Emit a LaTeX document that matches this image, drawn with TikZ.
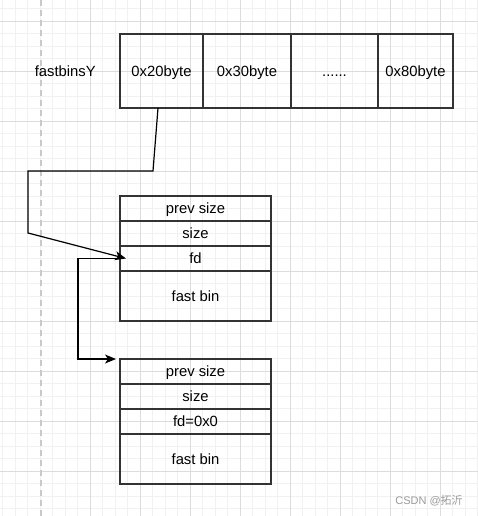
\documentclass[tikz,border=0pt]{standalone}
\usepackage{fontspec}
\setmainfont{Liberation Sans}
\newfontfamily\cjk{Noto Sans CJK SC}
\usetikzlibrary{arrows.meta}
\definecolor{gmaj}{HTML}{DCDCDC}
\definecolor{gmin}{HTML}{F1F1F1}
\definecolor{boxline}{HTML}{333333}
\definecolor{wm}{HTML}{9A9A9A}
\begin{document}
\begin{tikzpicture}[x=1pt,y=-1pt,
  cell/.style={draw=boxline, line width=1.2pt, inner sep=0pt, outer sep=0pt, anchor=north west,
    font=\fontsize{14.8}{16}\selectfont, text=black, text height=10.6pt, text depth=0pt},
  conn/.style={draw=black, line width=1.2pt, -{Stealth[length=11pt,width=9pt,inset=3pt]}},
  plain/.style={inner sep=0pt, font=\fontsize{14.8}{16}\selectfont, text height=10.6pt, text depth=0pt}]
\useasboundingbox[fill=white] (0,0) rectangle (478,516);
% grid
\foreach \i in {-3,...,35} {\draw[gmin, line width=0.8pt] ({40+12.5*\i},0) -- ({40+12.5*\i},516);}
\foreach \i in {-1,...,39} {\draw[gmin, line width=0.8pt] (0,{21+12.5*\i}) -- (478,{21+12.5*\i});}
\foreach \i in {1,...,8} {\draw[gmaj, line width=0.9pt] ({40+50*\i},0) -- ({40+50*\i},516);}
\foreach \i in {0,...,9} {\draw[gmaj, line width=0.9pt] (0,{21+50*\i}) -- (478,{21+50*\i});}
\draw[gmaj!80!gray, line width=1.2pt, dash pattern=on 6pt off 4pt] (41,0) -- (41,516);
% top row
\node[plain] (lbl) at (65.3,71) {fastbinsY};
\node[cell, minimum width=83pt, minimum height=74pt] (c20) at (120,34) {0x20byte};
\node[cell, minimum width=88pt, minimum height=74pt] (c30) at (c20.north east) {0x30byte};
\node[cell, minimum width=87pt, minimum height=74pt] (cdots) at (c30.north east) {......};
\node[cell, minimum width=75pt, minimum height=74pt] (c80) at (cdots.north east) {0x80byte};
% chunk 1
\node[cell, minimum width=151pt, minimum height=25pt] (pa) at (120,196) {prev size};
\node[cell, minimum width=151pt, minimum height=25pt] (sa) at (pa.south west) {size};
\node[cell, minimum width=151pt, minimum height=25pt] (fa) at (sa.south west) {fd};
\node[cell, minimum width=151pt, minimum height=50pt] (ba) at (fa.south west) {fast bin};
% chunk 2
\node[cell, minimum width=151pt, minimum height=25pt] (pb) at (120,359) {prev size};
\node[cell, minimum width=151pt, minimum height=25pt] (sb) at (pb.south west) {size};
\node[cell, minimum width=151pt, minimum height=25pt] (fb) at (sb.south west) {fd=0x0};
\node[cell, minimum width=151pt, minimum height=50pt] (bb) at (fb.south west) {fast bin};
% connectors
\coordinate (s1) at ([xshift=-3.5pt]c20.south);
\coordinate (k1) at (153,171);
\coordinate (k2) at (28,171);
\coordinate (k3) at (28,233);
\draw[conn] (s1) -- (k1) -- (k2) -- (k3) -- ([xshift=6pt]fa.west);
\coordinate (k4) at (78,258.5);
\draw[conn] (fa.west) -- (k4) |- ([xshift=-4pt]pb.north west);
% watermark
\node[inner sep=0pt, text=wm, font=\fontsize{11}{12}\selectfont] (wmk) at (429,501) {CSDN @{\cjk 拓沂}};
\end{tikzpicture}
\end{document}
